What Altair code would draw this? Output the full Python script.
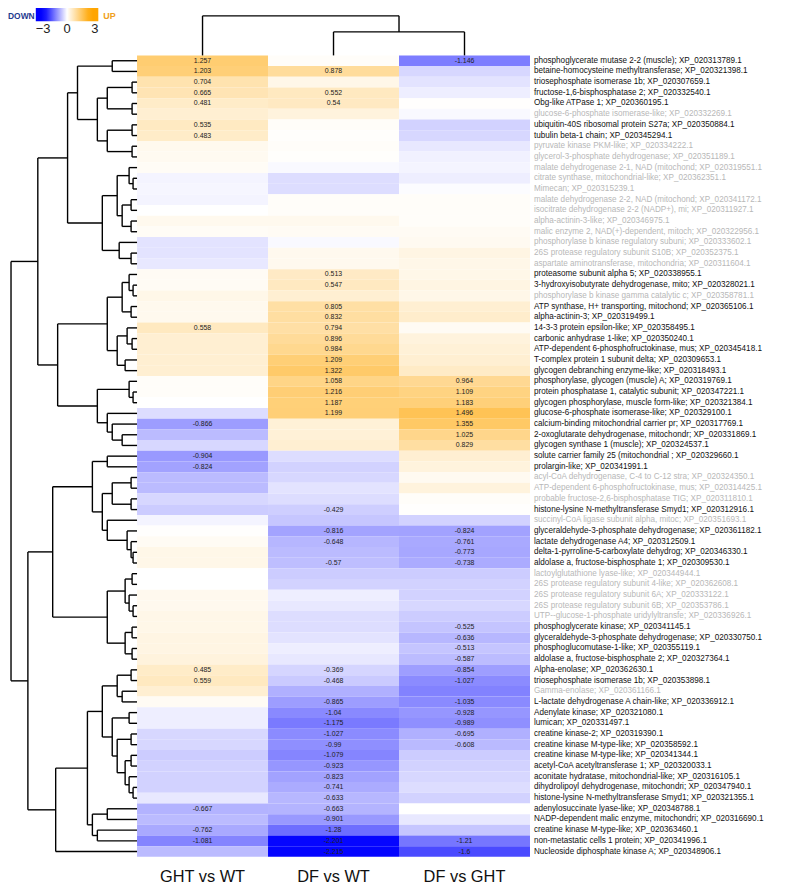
import altair as alt
import pandas as pd

comparisons = ["GHT vs WT", "DF vs WT", "DF vs GHT"]

proteins = [
    "phosphoglycerate mutase 2-2 (muscle); XP_020313789.1",
    "betaine-homocysteine methyltransferase; XP_020321398.1",
    "triosephosphate isomerase 1b; XP_020307659.1",
    "fructose-1,6-bisphosphatase 2; XP_020332540.1",
    "Obg-like ATPase 1; XP_020360195.1",
    "glucose-6-phosphate isomerase-like; XP_020332269.1",
    "ubiquitin-40S ribosomal protein S27a; XP_020350884.1",
    "tubulin beta-1 chain; XP_020345294.1",
    "pyruvate kinase PKM-like; XP_020334222.1",
    "glycerol-3-phosphate dehydrogenase; XP_020351189.1",
    "malate dehydrogenase 2-1, NAD (mitochond; XP_020319551.1",
    "citrate synthase, mitochondrial-like; XP_020362351.1",
    "Mimecan; XP_020315239.1",
    "malate dehydrogenase 2-2, NAD (mitochond; XP_020341172.1",
    "isocitrate dehydrogenase 2-2 (NADP+), mi; XP_020311927.1",
    "alpha-actinin-3-like; XP_020346975.1",
    "malic enzyme 2, NAD(+)-dependent, mitoch; XP_020322956.1",
    "phosphorylase b kinase regulatory subuni; XP_020333602.1",
    "26S protease regulatory subunit S10B; XP_020352375.1",
    "aspartate aminotransferase, mitochondria; XP_020311604.1",
    "proteasome subunit alpha 5; XP_020338955.1",
    "3-hydroxyisobutyrate dehydrogenase, mito; XP_020328021.1",
    "phosphorylase b kinase gamma catalytic c; XP_020358781.1",
    "ATP synthase, H+ transporting, mitochond; XP_020365106.1",
    "alpha-actinin-3; XP_020319499.1",
    "14-3-3 protein epsilon-like; XP_020358495.1",
    "carbonic anhydrase 1-like; XP_020350240.1",
    "ATP-dependent 6-phosphofructokinase, mus; XP_020345418.1",
    "T-complex protein 1 subunit delta; XP_020309653.1",
    "glycogen debranching enzyme-like; XP_020318493.1",
    "phosphorylase, glycogen (muscle) A; XP_020319769.1",
    "protein phosphatase 1, catalytic subunit; XP_020347221.1",
    "glycogen phosphorylase, muscle form-like; XP_020321384.1",
    "glucose-6-phosphate isomerase-like; XP_020329100.1",
    "calcium-binding mitochondrial carrier pr; XP_020317769.1",
    "2-oxoglutarate dehydrogenase, mitochondr; XP_020331869.1",
    "glycogen synthase 1 (muscle); XP_020324537.1",
    "solute carrier family 25 (mitochondrial ; XP_020329660.1",
    "prolargin-like; XP_020341991.1",
    "acyl-CoA dehydrogenase, C-4 to C-12 stra; XP_020324350.1",
    "ATP-dependent 6-phosphofructokinase, mus; XP_020314425.1",
    "probable fructose-2,6-bisphosphatase TIG; XP_020311810.1",
    "histone-lysine N-methyltransferase Smyd1; XP_020312916.1",
    "succinyl-CoA ligase subunit alpha, mitoc; XP_020351693.1",
    "glyceraldehyde-3-phosphate dehydrogenase; XP_020361182.1",
    "lactate dehydrogenase A4; XP_020312509.1",
    "delta-1-pyrroline-5-carboxylate dehydrog; XP_020346330.1",
    "aldolase a, fructose-bisphosphate 1; XP_020309530.1",
    "lactoylglutathione lyase-like; XP_020344944.1",
    "26S protease regulatory subunit 4-like; XP_020362608.1",
    "26S protease regulatory subunit 6A; XP_020333122.1",
    "26S protease regulatory subunit 6B; XP_020353786.1",
    "UTP--glucose-1-phosphate uridylyltransfe; XP_020336926.1",
    "phosphoglycerate kinase; XP_020341145.1",
    "glyceraldehyde-3-phosphate dehydrogenase; XP_020330750.1",
    "phosphoglucomutase-1-like; XP_020355119.1",
    "aldolase a, fructose-bisphosphate 2; XP_020327364.1",
    "Alpha-enolase; XP_020362630.1",
    "triosephosphate isomerase 1b; XP_020353898.1",
    "Gamma-enolase; XP_020361166.1",
    "L-lactate dehydrogenase A chain-like; XP_020336912.1",
    "Adenylate kinase; XP_020321080.1",
    "lumican; XP_020331497.1",
    "creatine kinase-2; XP_020319390.1",
    "creatine kinase M-type-like; XP_020358592.1",
    "creatine kinase M-type-like; XP_020341344.1",
    "acetyl-CoA acetyltransferase 1; XP_020320033.1",
    "aconitate hydratase, mitochondrial-like; XP_020316105.1",
    "dihydrolipoyl dehydrogenase, mitochondri; XP_020347940.1",
    "histone-lysine N-methyltransferase Smyd1; XP_020321355.1",
    "adenylosuccinate lyase-like; XP_020348788.1",
    "NADP-dependent malic enzyme, mitochondri; XP_020316690.1",
    "creatine kinase M-type-like; XP_020363460.1",
    "non-metastatic cells 1 protein; XP_020341996.1",
    "Nucleoside diphosphate kinase A; XP_020348906.1",
]

# rows (1-based) whose labels are drawn in grey
grey_rows = [6, 9, 10, 11, 12, 13, 14, 15, 16, 17, 18, 19, 20, 23,
             40, 41, 42, 44, 49, 50, 51, 52, 53, 60]

ght_vs_wt = [1.257, 1.203, 0.704, 0.665, 0.481, 0.40, 0.535, 0.483, 0.15, 0.12,
             0.08, -0.10, -0.08, -0.10, 0.0, 0.15, 0.08, -0.25, -0.25, -0.20,
             0.10, 0.10, 0.20, 0.15, 0.15, 0.558, 0.40, 0.40, 0.40, 0.40,
             0.05, 0.05, 0.0, -0.30, -0.866, -0.60, -0.35, -0.904, -0.824, -0.60,
             -0.60, -0.35, -0.45, -0.10, 0.02, 0.10, 0.20, 0.20, 0.0, 0.0,
             0.15, 0.15, 0.20, 0.20, 0.25, 0.25, 0.30, 0.485, 0.559, 0.40,
             0.10, -0.15, -0.15, -0.35, -0.35, -0.45, -0.40, -0.40, -0.40, -0.20,
             -0.667, -0.60, -0.762, -1.081, -0.60]

df_vs_wt = [0.05, 0.878, 0.20, 0.552, 0.54, 0.30, 0.05, 0.03, 0.05, 0.03,
            -0.05, -0.30, -0.30, 0.05, 0.05, 0.15, 0.10, -0.05, 0.15, 0.15,
            0.513, 0.547, 0.40, 0.805, 0.832, 0.794, 0.896, 0.984, 1.209, 1.322,
            1.058, 1.216, 1.187, 1.199, 0.35, 0.35, 0.40, -0.30, -0.40, -0.35,
            -0.25, -0.30, -0.429, -0.50, -0.816, -0.648, -0.60, -0.57, -0.45, -0.40,
            -0.15, -0.20, -0.30, -0.30, -0.25, -0.15, -0.20, -0.369, -0.468, -0.70,
            -0.865, -1.04, -1.175, -1.027, -0.99, -1.079, -0.923, -0.823, -0.741, -0.633,
            -0.663, -0.901, -1.28, -2.201, -2.215]

df_vs_ght = [-1.146, -0.35, -0.25, -0.15, 0.02, -0.05, -0.40, -0.35, -0.20, -0.12,
             -0.10, -0.15, -0.03, 0.05, 0.05, 0.05, 0.10, 0.12, 0.25, 0.20,
             0.20, 0.25, 0.20, 0.40, 0.45, 0.10, 0.30, 0.35, 0.40, 0.50,
             0.964, 1.109, 1.183, 1.496, 1.355, 1.025, 0.829, 0.40, 0.30, 0.12,
             0.30, 0.05, 0.02, -0.40, -0.824, -0.761, -0.773, -0.738, -0.45, -0.40,
             -0.40, -0.35, -0.45, -0.525, -0.636, -0.513, -0.587, -0.854, -1.027, -1.10,
             -1.035, -0.928, -0.989, -0.695, -0.608, -0.45, -0.40, -0.35, -0.30, -0.40,
             0.0, -0.20, -0.50, -1.21, -1.6]

# rows (1-based) whose value is printed in the cell
ght_shown = [1, 2, 3, 4, 5, 7, 8, 26, 35, 38, 39, 58, 59, 71, 73, 74]
df_wt_shown = [2, 4, 5, 21, 22, 24, 25, 26, 27, 28, 29, 30, 31, 32, 33, 34, 43,
               45, 46, 48, 58, 59, 61, 62, 63, 64, 65, 66, 67, 68, 69, 70, 71, 72,
               73, 74, 75]
df_ght_shown = [1, 31, 32, 33, 34, 35, 36, 37, 45, 46, 47, 48, 54, 55, 56, 57,
                58, 59, 61, 62, 63, 64, 65, 74, 75]

# row dendrogram: (merge height, left, right); leaves are 1-based row numbers
row_tree = (127,
            (100,
             (70,
              (60, (25, 1, 2),
               (40, (30, (5, 3, 4), (5, 5, 6)), (30, (5, 7, 8), (5, 9, 10)))),
              (35, (20, (8, 11, (4, 12, 13)), (15, (6, 14, 15), (6, 16, 17))),
               (18, 18, (6, 19, 20)))),
             (80,
              (30, (15, (8, 21, (4, 22, 23)), (6, 24, 25)),
               (20, (10, 26, (5, 27, 28)), (12, 29, 30))),
              (40, (8, 31, (4, 32, 33)), (30, 34, (25, 35, (15, 36, 37)))))),
            (110,
             (85,
              (45, (30, 38, 39),
               (35, (25, (6, 40, 41), (6, 42, 43)),
                (30, 44, (10, 45, (6, 46, (4, 47, 48)))))),
              (30, (12, (5, 49, 50), (8, 51, (4, 52, 53))),
               (12, (5, 54, 55), (5, 56, 57)))),
             (82,
              (50,
               (35, (20, (6, 58, 59), (15, 60, 61)),
                (25, (8, 62, 63),
                 (20, (6, 64, 65), (12, (6, 66, 67), (8, 68, (4, 69, 70)))))),
               (45, (30, 71, 72), (40, 73, 74))),
              75)))

# column dendrogram (heights in row units above the heatmap)
col_tree = (3.7, 1, (2.2, 2, 3))

n_rows = len(proteins)
PX_PER_UNIT = 132.0  # pixels per column unit

# ---------- tables ----------
cells = []
for ci, (vals, shown) in enumerate([(ght_vs_wt, ght_shown),
                                    (df_vs_wt, df_wt_shown),
                                    (df_vs_ght, df_ght_shown)]):
    for ri, v in enumerate(vals):
        cells.append({
            "x0": ci, "x1": ci + 1, "xc": ci + 0.5,
            "y0": ri, "y1": ri + 1, "yc": ri + 0.5,
            "value": v,
            "label": str(v) if (ri + 1) in shown else "",
        })
cells = pd.DataFrame(cells)

labels = pd.DataFrame({
    "protein": proteins,
    "yc": [i + 0.5 for i in range(n_rows)],
    "grey": [(i + 1) in grey_rows for i in range(n_rows)],
})


def build(tree, pos, segs):
    if isinstance(tree, int):
        return pos(tree), 0.0
    h, a, b = tree
    pa, ha = build(a, pos, segs)
    pb, hb = build(b, pos, segs)
    segs.append((pa, pa, ha, h))
    segs.append((pb, pb, hb, h))
    segs.append((pa, pb, h, h))
    return (pa + pb) / 2.0, h


row_segs = []
build(row_tree, lambda leaf: leaf - 0.5, row_segs)
row_dend = pd.DataFrame([
    {"y1": p1, "y2": p2, "x1": -h1 / PX_PER_UNIT, "x2": -h2 / PX_PER_UNIT}
    for (p1, p2, h1, h2) in row_segs])

col_segs = []
build(col_tree, lambda leaf: leaf - 0.5, col_segs)
col_dend = pd.DataFrame([
    {"x1": p1, "x2": p2, "y1": -h1, "y2": -h2}
    for (p1, p2, h1, h2) in col_segs])

cols_df = pd.DataFrame({"comparison": comparisons,
                        "xc": [i + 0.5 for i in range(3)]})

FONT = "Liberation Sans"
W, H = 524, 848
xs = alt.Scale(domain=[-0.97, 3], nice=False, zero=False)
ys = alt.Scale(domain=[-3.75, 75], nice=False, zero=False, reverse=True)

color_scale = alt.Scale(domain=[-3, -2.25, 0, 2.25, 3],
                        range=["#0000FF", "#0000FF", "#FFFFFF", "#FFA500", "#FFA500"],
                        interpolate="rgb")

heat = alt.Chart(cells).mark_rect(stroke=None).encode(
    x=alt.X("x0:Q", scale=xs, axis=None),
    x2="x1:Q",
    y=alt.Y("y0:Q", scale=ys, axis=None),
    y2="y1:Q",
    color=alt.Color("value:Q", scale=color_scale,
                    legend=alt.Legend(orient="none", legendX=26, legendY=-12,
                                      direction="horizontal", title=None,
                                      padding=0,
                                      gradientLength=63, gradientThickness=18,
                                      values=[-3, 0, 3], labelFontSize=13,
                                      labelFont=FONT,
                                      labelColor="#222",
                                      gradientStrokeWidth=0)),
)

cell_text = alt.Chart(cells).mark_text(fontSize=7, font=FONT, color="#222",
                                       baseline="middle").encode(
    x=alt.X("xc:Q", scale=xs), y=alt.Y("yc:Q", scale=ys), text="label:N")

row_lines = alt.Chart(row_dend).mark_rule(color="black", strokeWidth=1.4).encode(
    x=alt.X("x1:Q", scale=xs), x2="x2:Q",
    y=alt.Y("y1:Q", scale=ys), y2="y2:Q")

col_lines = alt.Chart(col_dend).mark_rule(color="black", strokeWidth=1.4).encode(
    x=alt.X("x1:Q", scale=xs), x2="x2:Q",
    y=alt.Y("y1:Q", scale=ys), y2="y2:Q")

black_labels = alt.Chart(labels).transform_filter("!datum.grey").mark_text(
    align="left", baseline="middle", dx=4, fontSize=8.2, font=FONT,
    color="#111").encode(x=alt.datum(3), y=alt.Y("yc:Q", scale=ys),
                         text="protein:N")

grey_labels = alt.Chart(labels).transform_filter("datum.grey").mark_text(
    align="left", baseline="middle", dx=4, fontSize=8.2, font=FONT,
    color="#b8b8b8").encode(x=alt.datum(3), y=alt.Y("yc:Q", scale=ys),
                            text="protein:N")

col_labels = alt.Chart(cols_df).mark_text(
    fontSize=16.5, font=FONT, color="#111", baseline="middle").encode(
    x=alt.X("xc:Q", scale=xs), y=alt.value(H + 20), text="comparison:N")

down_text = alt.Chart(cols_df.head(1)).mark_text(
    text="DOWN", fontSize=8.5, fontWeight="bold", font=FONT,
    color="#1f3b8f", align="left", baseline="middle").encode(
    x=alt.value(-2), y=alt.value(1))

up_text = alt.Chart(cols_df.head(1)).mark_text(
    text="UP", fontSize=9, fontWeight="bold", font=FONT,
    color="#f0a020", align="left", baseline="middle").encode(
    x=alt.value(94), y=alt.value(1))

chart = alt.layer(heat, cell_text, row_lines, col_lines, black_labels,
                  grey_labels, col_labels, down_text, up_text).properties(
    width=W, height=H,
    autosize=alt.AutoSizeParams(type="none"),
    padding={"left": 2, "top": 4, "right": 262, "bottom": 30},
).configure_view(stroke=None)

chart.save("out.html", embed_options={"renderer": "svg", "actions": False})
